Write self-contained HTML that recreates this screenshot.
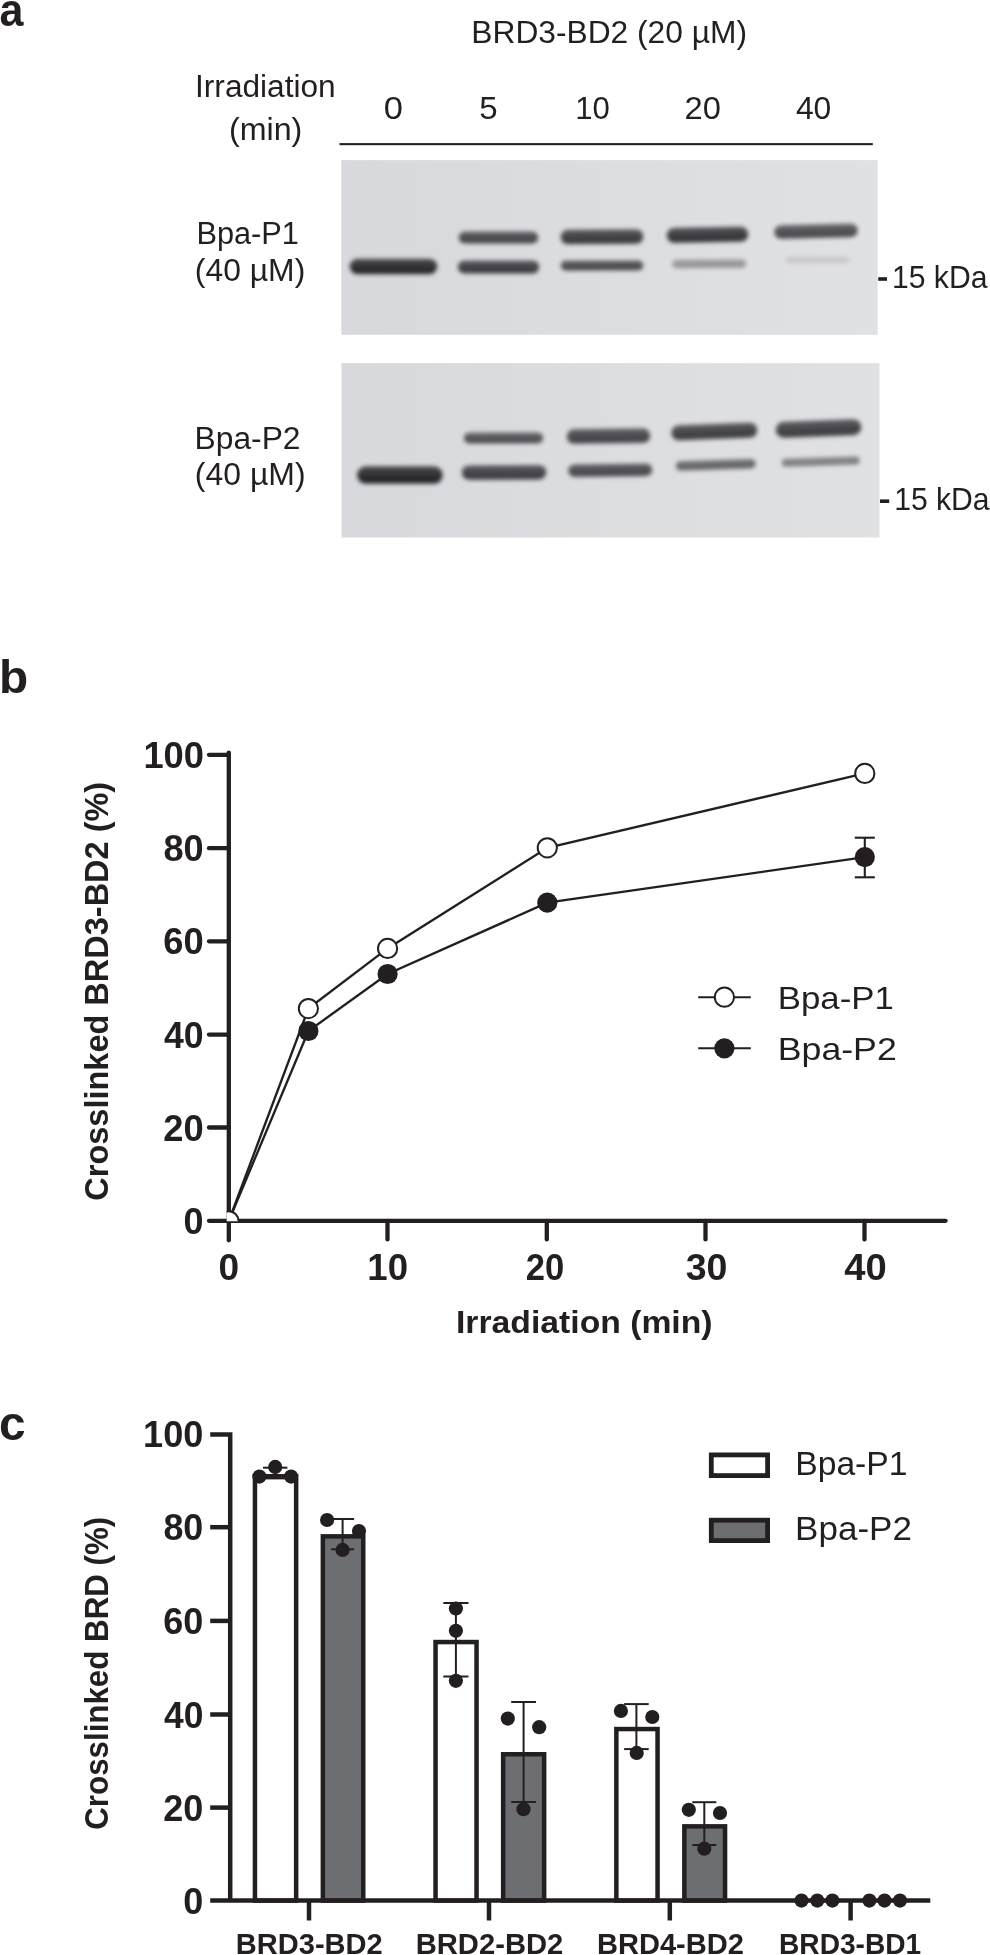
<!DOCTYPE html>
<html><head><meta charset="utf-8"><style>
html,body{margin:0;padding:0;background:#fff;}
svg{display:block;}
text{font-family:"Liberation Sans", sans-serif;}
svg{will-change:transform;}
</style></head><body>
<svg width="990" height="1955" viewBox="0 0 990 1955">
<defs><linearGradient id="gelg" x1="0" y1="0" x2="1" y2="0"><stop offset="0" stop-color="#d8d9dc"/><stop offset="0.5" stop-color="#dcdddf"/><stop offset="1" stop-color="#e0e1e3"/></linearGradient><filter id="bl" x="-20%" y="-100%" width="140%" height="300%"><feGaussianBlur stdDeviation="2.0"/></filter></defs>
<rect width="990" height="1955" fill="#fff"/>
<text x="-0.49" y="25.70" font-size="47" font-weight="bold" textLength="23.93" lengthAdjust="spacingAndGlyphs" fill="#231f20">a</text>
<text x="471.36" y="42.50" font-size="31" font-weight="normal" textLength="275.58" lengthAdjust="spacingAndGlyphs" fill="#231f20">BRD3-BD2 (20 µM)</text>
<text x="195.05" y="97.10" font-size="31" font-weight="normal" textLength="140.66" lengthAdjust="spacingAndGlyphs" fill="#231f20">Irradiation</text>
<text x="228.97" y="140.00" font-size="31" font-weight="normal" textLength="73.35" lengthAdjust="spacingAndGlyphs" fill="#231f20">(min)</text>
<text x="383.82" y="118.70" font-size="30.5" font-weight="normal" textLength="19.20" lengthAdjust="spacingAndGlyphs" fill="#231f20">0</text>
<text x="479.28" y="118.70" font-size="30.5" font-weight="normal" textLength="18.38" lengthAdjust="spacingAndGlyphs" fill="#231f20">5</text>
<text x="575.26" y="118.70" font-size="30.5" font-weight="normal" textLength="34.66" lengthAdjust="spacingAndGlyphs" fill="#231f20">10</text>
<text x="684.56" y="118.70" font-size="30.5" font-weight="normal" textLength="36.42" lengthAdjust="spacingAndGlyphs" fill="#231f20">20</text>
<text x="795.90" y="118.70" font-size="30.5" font-weight="normal" textLength="35.45" lengthAdjust="spacingAndGlyphs" fill="#231f20">40</text>
<rect x="339.5" y="143.1" width="533.3" height="2.1" fill="#231f20"/>
<text x="196.44" y="243.60" font-size="31" font-weight="normal" textLength="102.51" lengthAdjust="spacingAndGlyphs" fill="#231f20">Bpa-P1</text>
<text x="194.89" y="280.90" font-size="31" font-weight="normal" textLength="110.40" lengthAdjust="spacingAndGlyphs" fill="#231f20">(40 µM)</text>
<text x="194.56" y="448.60" font-size="31" font-weight="normal" textLength="105.95" lengthAdjust="spacingAndGlyphs" fill="#231f20">Bpa-P2</text>
<text x="194.88" y="485.30" font-size="31" font-weight="normal" textLength="110.71" lengthAdjust="spacingAndGlyphs" fill="#231f20">(40 µM)</text>
<rect x="341.3" y="160.1" width="536.4" height="174.7" fill="url(#gelg)"/>
<rect x="341.5" y="363.1" width="538.0" height="174.4" fill="url(#gelg)"/>
<linearGradient id="g1" x1="0" y1="0" x2="0" y2="1"><stop offset="0" stop-color="#4c4c50"/><stop offset="0.5" stop-color="#343438"/><stop offset="0.8" stop-color="#26262a"/><stop offset="1" stop-color="#313135"/></linearGradient><rect x="349.8" y="258.8" width="87.4" height="15.5" rx="7.8" ry="7.8" fill="url(#g1)" filter="url(#bl)"/>
<linearGradient id="g2" x1="0" y1="0" x2="0" y2="1"><stop offset="0" stop-color="#626267"/><stop offset="0.5" stop-color="#4e4e53"/><stop offset="0.8" stop-color="#434348"/><stop offset="1" stop-color="#4c4c51"/></linearGradient><rect x="458.8" y="231.5" width="79.4" height="12.0" rx="6.0" ry="6.0" fill="url(#g2)" filter="url(#bl)"/>
<linearGradient id="g3" x1="0" y1="0" x2="0" y2="1"><stop offset="0" stop-color="#5a5a5f"/><stop offset="0.5" stop-color="#45454a"/><stop offset="0.8" stop-color="#39393e"/><stop offset="1" stop-color="#424247"/></linearGradient><rect x="457.8" y="260.5" width="81.4" height="13.0" rx="6.5" ry="6.5" fill="url(#g3)" filter="url(#bl)"/>
<linearGradient id="g4" x1="0" y1="0" x2="0" y2="1"><stop offset="0" stop-color="#5a5a5f"/><stop offset="0.5" stop-color="#45454a"/><stop offset="0.8" stop-color="#39393e"/><stop offset="1" stop-color="#424247"/></linearGradient><rect x="560.8" y="229.5" width="82.4" height="14.5" rx="7.2" ry="7.2" fill="url(#g4)" filter="url(#bl)" transform="rotate(-0.35 602.0 236.8)"/>
<linearGradient id="g5" x1="0" y1="0" x2="0" y2="1"><stop offset="0" stop-color="#646469"/><stop offset="0.5" stop-color="#505055"/><stop offset="0.8" stop-color="#45454a"/><stop offset="1" stop-color="#4e4e53"/></linearGradient><rect x="560.8" y="260.5" width="82.4" height="10.0" rx="5.0" ry="5.0" fill="url(#g5)" filter="url(#bl)" transform="rotate(-0.14 602.0 265.5)"/>
<linearGradient id="g6" x1="0" y1="0" x2="0" y2="1"><stop offset="0" stop-color="#56565b"/><stop offset="0.5" stop-color="#3f3f44"/><stop offset="0.8" stop-color="#323237"/><stop offset="1" stop-color="#3d3d42"/></linearGradient><rect x="666.8" y="227.3" width="81.4" height="15.0" rx="7.5" ry="7.5" fill="url(#g6)" filter="url(#bl)" transform="rotate(-1.06 707.5 234.8)"/>
<linearGradient id="g7" x1="0" y1="0" x2="0" y2="1"><stop offset="0" stop-color="#9f9fa4"/><stop offset="0.5" stop-color="#97979c"/><stop offset="0.8" stop-color="#939398"/><stop offset="1" stop-color="#96969b"/></linearGradient><rect x="672.3" y="259.5" width="73.9" height="8.5" rx="4.2" ry="4.2" fill="url(#g7)" filter="url(#bl)" transform="rotate(-0.39 709.2 263.8)"/>
<linearGradient id="g8" x1="0" y1="0" x2="0" y2="1"><stop offset="0" stop-color="#66666b"/><stop offset="0.5" stop-color="#535358"/><stop offset="0.8" stop-color="#48484d"/><stop offset="1" stop-color="#515156"/></linearGradient><rect x="774.3" y="224.5" width="83.4" height="13.5" rx="6.8" ry="6.8" fill="url(#g8)" filter="url(#bl)" transform="rotate(-1.31 816.0 231.2)"/>
<linearGradient id="g9" x1="0" y1="0" x2="0" y2="1"><stop offset="0" stop-color="#c8c8cc"/><stop offset="0.5" stop-color="#c8c8cc"/><stop offset="0.8" stop-color="#c8c8cc"/><stop offset="1" stop-color="#c8c8cc"/></linearGradient><rect x="785.8" y="256.8" width="63.4" height="6.5" rx="3.2" ry="3.2" fill="url(#g9)" filter="url(#bl)" transform="rotate(-0.36 817.5 260.0)"/>
<linearGradient id="g10" x1="0" y1="0" x2="0" y2="1"><stop offset="0" stop-color="#4b4b50"/><stop offset="0.5" stop-color="#323237"/><stop offset="0.8" stop-color="#242429"/><stop offset="1" stop-color="#2f2f34"/></linearGradient><rect x="357.1" y="466.2" width="85.6" height="17.5" rx="8.8" ry="8.8" fill="url(#g10)" filter="url(#bl)"/>
<linearGradient id="g11" x1="0" y1="0" x2="0" y2="1"><stop offset="0" stop-color="#69696e"/><stop offset="0.5" stop-color="#56565b"/><stop offset="0.8" stop-color="#4b4b50"/><stop offset="1" stop-color="#545459"/></linearGradient><rect x="463.8" y="432.4" width="79.4" height="11.0" rx="5.5" ry="5.5" fill="url(#g11)" filter="url(#bl)" transform="rotate(-0.14 503.5 437.9)"/>
<linearGradient id="g12" x1="0" y1="0" x2="0" y2="1"><stop offset="0" stop-color="#5d5d62"/><stop offset="0.5" stop-color="#48484d"/><stop offset="0.8" stop-color="#3c3c41"/><stop offset="1" stop-color="#45454a"/></linearGradient><rect x="461.8" y="465.2" width="84.4" height="14.5" rx="7.2" ry="7.2" fill="url(#g12)" filter="url(#bl)" transform="rotate(-0.27 504.0 472.5)"/>
<linearGradient id="g13" x1="0" y1="0" x2="0" y2="1"><stop offset="0" stop-color="#616166"/><stop offset="0.5" stop-color="#4c4c51"/><stop offset="0.8" stop-color="#414146"/><stop offset="1" stop-color="#4a4a4f"/></linearGradient><rect x="566.8" y="428.8" width="83.4" height="14.5" rx="7.2" ry="7.2" fill="url(#g13)" filter="url(#bl)" transform="rotate(-0.69 608.5 436.0)"/>
<linearGradient id="g14" x1="0" y1="0" x2="0" y2="1"><stop offset="0" stop-color="#65656a"/><stop offset="0.5" stop-color="#515156"/><stop offset="0.8" stop-color="#46464b"/><stop offset="1" stop-color="#4f4f54"/></linearGradient><rect x="568.3" y="463.9" width="83.9" height="12.5" rx="6.2" ry="6.2" fill="url(#g14)" filter="url(#bl)" transform="rotate(-0.68 610.2 470.1)"/>
<linearGradient id="g15" x1="0" y1="0" x2="0" y2="1"><stop offset="0" stop-color="#5d5d62"/><stop offset="0.5" stop-color="#48484d"/><stop offset="0.8" stop-color="#3c3c41"/><stop offset="1" stop-color="#45454a"/></linearGradient><rect x="671.3" y="423.9" width="86.0" height="15.0" rx="7.5" ry="7.5" fill="url(#g15)" filter="url(#bl)" transform="rotate(-2.13 714.2 431.4)"/>
<linearGradient id="g16" x1="0" y1="0" x2="0" y2="1"><stop offset="0" stop-color="#79797e"/><stop offset="0.5" stop-color="#69696e"/><stop offset="0.8" stop-color="#606065"/><stop offset="1" stop-color="#67676c"/></linearGradient><rect x="675.8" y="460.0" width="79.9" height="9.5" rx="4.8" ry="4.8" fill="url(#g16)" filter="url(#bl)" transform="rotate(-1.79 715.8 464.8)"/>
<linearGradient id="g17" x1="0" y1="0" x2="0" y2="1"><stop offset="0" stop-color="#5d5d62"/><stop offset="0.5" stop-color="#48484d"/><stop offset="0.8" stop-color="#3c3c41"/><stop offset="1" stop-color="#45454a"/></linearGradient><rect x="775.8" y="420.4" width="85.5" height="16.0" rx="8.0" ry="8.0" fill="url(#g17)" filter="url(#bl)" transform="rotate(-2.15 818.5 428.4)"/>
<linearGradient id="g18" x1="0" y1="0" x2="0" y2="1"><stop offset="0" stop-color="#8c8c91"/><stop offset="0.5" stop-color="#808085"/><stop offset="0.8" stop-color="#7a7a7f"/><stop offset="1" stop-color="#7f7f84"/></linearGradient><rect x="781.8" y="457.4" width="77.9" height="8.0" rx="4.0" ry="4.0" fill="url(#g18)" filter="url(#bl)" transform="rotate(-1.84 820.8 461.4)"/>
<rect x="878.2" y="277.2" width="8.8" height="3.6" fill="#231f20"/>
<text x="891.94" y="287.60" font-size="30.5" font-weight="normal" textLength="95.47" lengthAdjust="spacingAndGlyphs" fill="#231f20">15 kDa</text>
<rect x="880.0" y="499.4" width="9.2" height="3.6" fill="#231f20"/>
<text x="894.14" y="509.80" font-size="30.5" font-weight="normal" textLength="95.47" lengthAdjust="spacingAndGlyphs" fill="#231f20">15 kDa</text>
<text x="-1.00" y="692.70" font-size="47" font-weight="bold" textLength="29.15" lengthAdjust="spacingAndGlyphs" fill="#231f20">b</text>
<g stroke="#231f20" stroke-width="4.3" stroke-linecap="round" fill="none">
<line x1="228.8" y1="752.6" x2="228.8" y2="1240.3"/>
<line x1="209.0" y1="1220.8" x2="945.6" y2="1220.8"/>
<line x1="209.0" y1="754.8" x2="228.8" y2="754.8"/>
<line x1="209.0" y1="848.2" x2="228.8" y2="848.2"/>
<line x1="209.0" y1="941.3" x2="228.8" y2="941.3"/>
<line x1="209.0" y1="1034.6" x2="228.8" y2="1034.6"/>
<line x1="209.0" y1="1127.5" x2="228.8" y2="1127.5"/>
<line x1="387.5" y1="1220.8" x2="387.5" y2="1239.4"/>
<line x1="546.8" y1="1220.8" x2="546.8" y2="1239.4"/>
<line x1="705.5" y1="1220.8" x2="705.5" y2="1239.4"/>
<line x1="864.5" y1="1220.8" x2="864.5" y2="1239.4"/>
</g>
<text x="143.44" y="767.80" font-size="36" font-weight="bold" textLength="60.54" lengthAdjust="spacingAndGlyphs" fill="#231f20">100</text>
<text x="163.42" y="861.20" font-size="36" font-weight="bold" textLength="40.22" lengthAdjust="spacingAndGlyphs" fill="#231f20">80</text>
<text x="163.23" y="954.30" font-size="36" font-weight="bold" textLength="40.41" lengthAdjust="spacingAndGlyphs" fill="#231f20">60</text>
<text x="163.97" y="1047.60" font-size="36" font-weight="bold" textLength="39.64" lengthAdjust="spacingAndGlyphs" fill="#231f20">40</text>
<text x="163.23" y="1140.50" font-size="36" font-weight="bold" textLength="40.41" lengthAdjust="spacingAndGlyphs" fill="#231f20">20</text>
<text x="183.56" y="1233.80" font-size="36" font-weight="bold" textLength="20.02" lengthAdjust="spacingAndGlyphs" fill="#231f20">0</text>
<text x="218.52" y="1279.60" font-size="36" font-weight="bold" textLength="20.61" lengthAdjust="spacingAndGlyphs" fill="#231f20">0</text>
<text x="367.32" y="1279.60" font-size="36" font-weight="bold" textLength="40.73" lengthAdjust="spacingAndGlyphs" fill="#231f20">10</text>
<text x="525.79" y="1279.60" font-size="36" font-weight="bold" textLength="38.48" lengthAdjust="spacingAndGlyphs" fill="#231f20">20</text>
<text x="685.76" y="1279.60" font-size="36" font-weight="bold" textLength="41.73" lengthAdjust="spacingAndGlyphs" fill="#231f20">30</text>
<text x="844.33" y="1279.60" font-size="36" font-weight="bold" textLength="42.49" lengthAdjust="spacingAndGlyphs" fill="#231f20">40</text>
<text x="456.01" y="1332.60" font-size="31.5" font-weight="bold" textLength="256.56" lengthAdjust="spacingAndGlyphs" fill="#231f20">Irradiation (min)</text>
<text transform="translate(108.20,1200.70) rotate(-90)" x="0" y="0" font-size="33" font-weight="bold" textLength="418.91" lengthAdjust="spacingAndGlyphs" fill="#231f20">Crosslinked BRD3-BD2 (%)</text>
<polyline points="228.8,1220.8 308.4,1008.6 387.6,948.4 547.3,847.8 864.8,773.4" fill="none" stroke="#231f20" stroke-width="2.35"/>
<polyline points="228.8,1220.8 308.4,1031.0 387.6,974.0 547.3,902.7 864.8,857.1" fill="none" stroke="#231f20" stroke-width="2.35"/>
<clipPath id="oc"><rect x="226.7" y="1180" width="40" height="41.2"/></clipPath>
<circle cx="228.8" cy="1220.8" r="9.6" fill="#fff" stroke="#231f20" stroke-width="2" clip-path="url(#oc)"/>
<circle cx="308.4" cy="1008.6" r="9.6" fill="#fff" stroke="#231f20" stroke-width="2"/>
<circle cx="387.6" cy="948.4" r="9.6" fill="#fff" stroke="#231f20" stroke-width="2"/>
<circle cx="547.3" cy="847.8" r="9.6" fill="#fff" stroke="#231f20" stroke-width="2"/>
<circle cx="864.8" cy="773.4" r="9.6" fill="#fff" stroke="#231f20" stroke-width="2"/>
<g stroke="#231f20" stroke-width="2.1"><line x1="864.8" y1="837.7" x2="864.8" y2="877.3"/><line x1="854.8" y1="837.7" x2="874.8" y2="837.7"/><line x1="854.8" y1="877.3" x2="874.8" y2="877.3"/></g>
<circle cx="308.4" cy="1031.0" r="10.1" fill="#231f20"/>
<circle cx="387.6" cy="974.0" r="10.1" fill="#231f20"/>
<circle cx="547.3" cy="902.7" r="10.1" fill="#231f20"/>
<circle cx="864.8" cy="857.1" r="10.1" fill="#231f20"/>
<line x1="698.2" y1="997.2" x2="750.8" y2="997.2" stroke="#231f20" stroke-width="2.1"/>
<circle cx="724.4" cy="997.2" r="9.6" fill="#fff" stroke="#231f20" stroke-width="2"/>
<line x1="698.2" y1="1048.3" x2="750.8" y2="1048.3" stroke="#231f20" stroke-width="2.1"/>
<circle cx="724.4" cy="1048.3" r="10.1" fill="#231f20"/>
<text x="777.82" y="1009.30" font-size="31.5" font-weight="normal" textLength="116.04" lengthAdjust="spacingAndGlyphs" fill="#231f20">Bpa-P1</text>
<text x="777.74" y="1060.40" font-size="31.5" font-weight="normal" textLength="119.06" lengthAdjust="spacingAndGlyphs" fill="#231f20">Bpa-P2</text>
<text x="-1.01" y="1440.30" font-size="48" font-weight="bold" textLength="26.60" lengthAdjust="spacingAndGlyphs" fill="#231f20">c</text>
<rect x="254.95" y="1476.25" width="41.20" height="424.35" fill="#fff" stroke="#231f20" stroke-width="4.5"/>
<rect x="322.85" y="1536.35" width="40.40" height="364.25" fill="#6d6e71" stroke="#231f20" stroke-width="4.5"/>
<rect x="435.55" y="1642.05" width="41.00" height="258.55" fill="#fff" stroke="#231f20" stroke-width="4.5"/>
<rect x="503.15" y="1754.25" width="41.00" height="146.35" fill="#6d6e71" stroke="#231f20" stroke-width="4.5"/>
<rect x="616.35" y="1729.05" width="41.20" height="171.55" fill="#fff" stroke="#231f20" stroke-width="4.5"/>
<rect x="684.35" y="1826.35" width="40.70" height="74.25" fill="#6d6e71" stroke="#231f20" stroke-width="4.5"/>
<g stroke="#231f20" stroke-width="2">
<line x1="275.2" y1="1467.7" x2="275.2" y2="1478.4"/>
<line x1="263.0" y1="1467.7" x2="287.4" y2="1467.7"/>
<line x1="263.0" y1="1478.4" x2="287.4" y2="1478.4"/>
<line x1="342.6" y1="1519.0" x2="342.6" y2="1549.3"/>
<line x1="331.1" y1="1519.0" x2="354.1" y2="1519.0"/>
<line x1="331.1" y1="1549.3" x2="354.1" y2="1549.3"/>
<line x1="455.9" y1="1603.0" x2="455.9" y2="1676.5"/>
<line x1="443.3" y1="1603.0" x2="468.5" y2="1603.0"/>
<line x1="443.3" y1="1676.5" x2="468.5" y2="1676.5"/>
<line x1="523.6" y1="1702.0" x2="523.6" y2="1802.0"/>
<line x1="511.2" y1="1702.0" x2="536.0" y2="1702.0"/>
<line x1="511.2" y1="1802.0" x2="536.0" y2="1802.0"/>
<line x1="636.4" y1="1704.1" x2="636.4" y2="1749.1"/>
<line x1="624.1" y1="1704.1" x2="648.7" y2="1704.1"/>
<line x1="624.1" y1="1749.1" x2="648.7" y2="1749.1"/>
<line x1="704.3" y1="1802.2" x2="704.3" y2="1845.0"/>
<line x1="692.3" y1="1802.2" x2="716.3" y2="1802.2"/>
<line x1="692.3" y1="1845.0" x2="716.3" y2="1845.0"/>
</g>
<g stroke="#231f20" stroke-width="4.5" stroke-linecap="butt" fill="none">
<polyline points="210.2,1434.4 230.2,1434.4 230.2,1900.6"/>
<line x1="210.2" y1="1900.6" x2="930.3" y2="1900.6"/>
<line x1="210.2" y1="1527.2" x2="230.2" y2="1527.2"/>
<line x1="210.2" y1="1620.9" x2="230.2" y2="1620.9"/>
<line x1="210.2" y1="1714.5" x2="230.2" y2="1714.5"/>
<line x1="210.2" y1="1807.6" x2="230.2" y2="1807.6"/>
<line x1="309.0" y1="1900.6" x2="309.0" y2="1920.5"/>
<line x1="489.0" y1="1900.6" x2="489.0" y2="1920.5"/>
<line x1="669.8" y1="1900.6" x2="669.8" y2="1920.5"/>
<line x1="850.6" y1="1900.6" x2="850.6" y2="1920.5"/>
</g>
<circle cx="259.4" cy="1476.6" r="7.1" fill="#231f20"/>
<circle cx="275.2" cy="1466.9" r="7.1" fill="#231f20"/>
<circle cx="291.1" cy="1476.6" r="7.1" fill="#231f20"/>
<circle cx="327.1" cy="1520.0" r="7.1" fill="#231f20"/>
<circle cx="342.6" cy="1549.9" r="7.1" fill="#231f20"/>
<circle cx="359.0" cy="1531.1" r="7.1" fill="#231f20"/>
<circle cx="455.9" cy="1608.5" r="7.1" fill="#231f20"/>
<circle cx="455.9" cy="1630.8" r="7.1" fill="#231f20"/>
<circle cx="455.9" cy="1680.8" r="7.1" fill="#231f20"/>
<circle cx="507.8" cy="1718.6" r="7.1" fill="#231f20"/>
<circle cx="539.2" cy="1727.2" r="7.1" fill="#231f20"/>
<circle cx="523.5" cy="1809.2" r="7.1" fill="#231f20"/>
<circle cx="620.9" cy="1710.9" r="7.1" fill="#231f20"/>
<circle cx="652.3" cy="1717.0" r="7.1" fill="#231f20"/>
<circle cx="636.7" cy="1752.9" r="7.1" fill="#231f20"/>
<circle cx="688.8" cy="1809.8" r="7.1" fill="#231f20"/>
<circle cx="720.0" cy="1813.0" r="7.1" fill="#231f20"/>
<circle cx="704.3" cy="1848.7" r="7.1" fill="#231f20"/>
<circle cx="801.5" cy="1900.6" r="7.1" fill="#231f20"/>
<circle cx="817.3" cy="1900.6" r="7.1" fill="#231f20"/>
<circle cx="832.4" cy="1900.6" r="7.1" fill="#231f20"/>
<circle cx="869.4" cy="1900.6" r="7.1" fill="#231f20"/>
<circle cx="884.5" cy="1900.6" r="7.1" fill="#231f20"/>
<circle cx="900.0" cy="1900.6" r="7.1" fill="#231f20"/>
<text x="143.05" y="1447.40" font-size="36" font-weight="bold" textLength="60.32" lengthAdjust="spacingAndGlyphs" fill="#231f20">100</text>
<text x="163.42" y="1540.20" font-size="36" font-weight="bold" textLength="39.89" lengthAdjust="spacingAndGlyphs" fill="#231f20">80</text>
<text x="163.24" y="1633.90" font-size="36" font-weight="bold" textLength="40.09" lengthAdjust="spacingAndGlyphs" fill="#231f20">60</text>
<text x="163.97" y="1727.50" font-size="36" font-weight="bold" textLength="39.33" lengthAdjust="spacingAndGlyphs" fill="#231f20">40</text>
<text x="163.24" y="1820.60" font-size="36" font-weight="bold" textLength="40.09" lengthAdjust="spacingAndGlyphs" fill="#231f20">20</text>
<text x="183.36" y="1913.60" font-size="36" font-weight="bold" textLength="20.02" lengthAdjust="spacingAndGlyphs" fill="#231f20">0</text>
<text transform="translate(108.20,1829.75) rotate(-90)" x="0" y="0" font-size="33" font-weight="bold" textLength="313.01" lengthAdjust="spacingAndGlyphs" fill="#231f20">Crosslinked BRD (%)</text>
<text x="235.81" y="1953.80" font-size="29.5" font-weight="bold" textLength="146.89" lengthAdjust="spacingAndGlyphs" fill="#231f20">BRD3-BD2</text>
<text x="415.70" y="1953.80" font-size="29.5" font-weight="bold" textLength="147.60" lengthAdjust="spacingAndGlyphs" fill="#231f20">BRD2-BD2</text>
<text x="596.91" y="1953.80" font-size="29.5" font-weight="bold" textLength="146.99" lengthAdjust="spacingAndGlyphs" fill="#231f20">BRD4-BD2</text>
<text x="779.07" y="1953.80" font-size="29.5" font-weight="bold" textLength="142.17" lengthAdjust="spacingAndGlyphs" fill="#231f20">BRD3-BD1</text>
<rect x="711.3" y="1454.9" width="56.3" height="20.7" fill="#fff" stroke="#231f20" stroke-width="4.8"/>
<rect x="711.3" y="1520.2" width="56.3" height="20.4" fill="#6d6e71" stroke="#231f20" stroke-width="4.8"/>
<text x="795.21" y="1474.80" font-size="33" font-weight="normal" textLength="112.30" lengthAdjust="spacingAndGlyphs" fill="#231f20">Bpa-P1</text>
<text x="795.10" y="1539.60" font-size="33" font-weight="normal" textLength="116.77" lengthAdjust="spacingAndGlyphs" fill="#231f20">Bpa-P2</text>
</svg></body></html>
